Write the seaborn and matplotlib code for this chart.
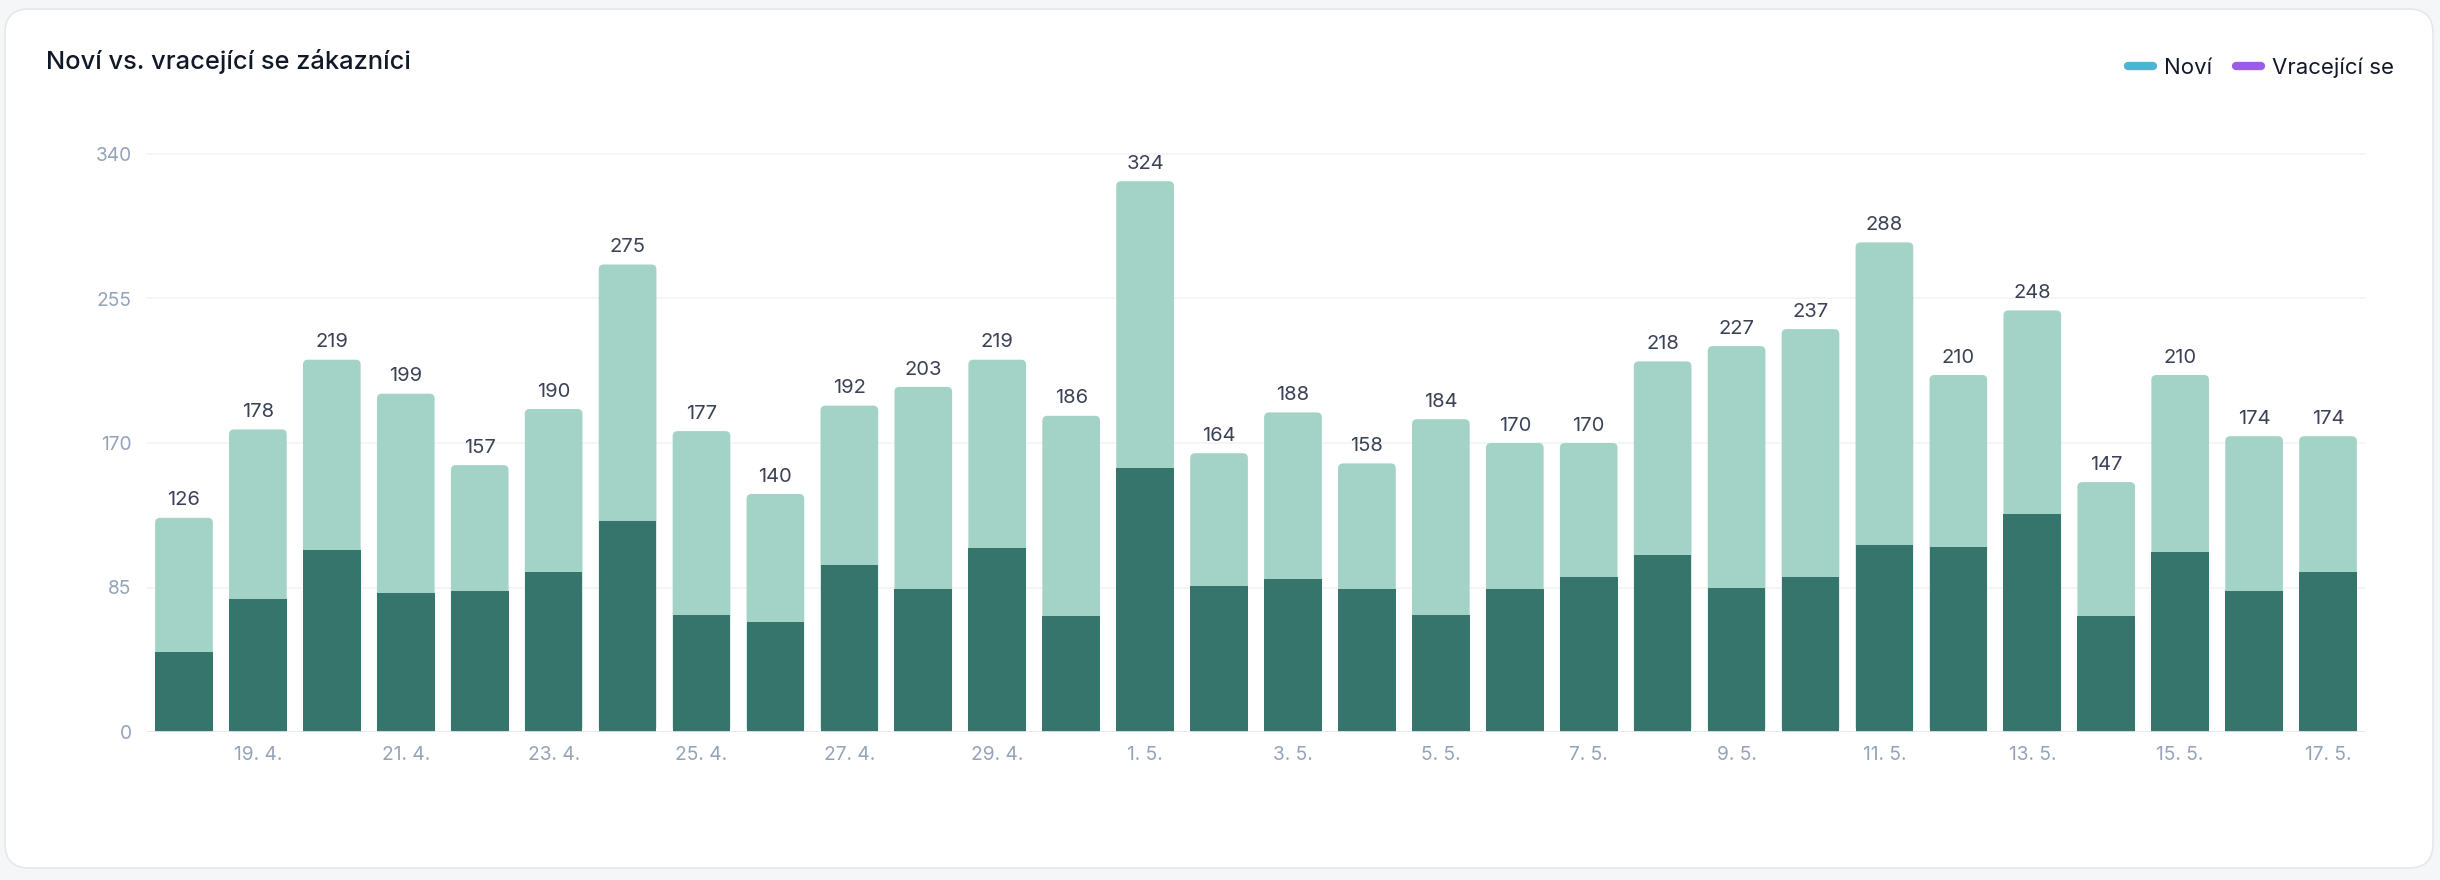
import numpy as np
import pandas as pd
import matplotlib
matplotlib.use('Agg')
import matplotlib.pyplot as plt
import seaborn as sns
from matplotlib.patches import FancyBboxPatch
from matplotlib.lines import Line2D

# data
dates = ['18. 4.', '19. 4.', '20. 4.', '21. 4.', '22. 4.', '23. 4.', '24. 4.', '25. 4.',
         '26. 4.', '27. 4.', '28. 4.', '29. 4.', '30. 4.', '1. 5.', '2. 5.', '3. 5.',
         '4. 5.', '5. 5.', '6. 5.', '7. 5.', '8. 5.', '9. 5.', '10. 5.', '11. 5.',
         '12. 5.', '13. 5.', '14. 5.', '15. 5.', '16. 5.', '17. 5.']
novi = [47, 78, 107, 82, 83, 94, 124, 69, 65, 98, 84, 108, 68, 155, 86,
        90, 84, 69, 84, 91, 104, 85, 91, 110, 109, 128, 68, 106, 83, 94]
vracejici = [79, 100, 112, 117, 74, 96, 151, 108, 75, 94, 119, 111, 118, 169, 78,
             98, 74, 115, 86, 79, 114, 142, 146, 178, 101, 120, 79, 104, 91, 80]
y_ticks = [0, 85, 170, 255, 340]

df = pd.DataFrame({'datum': dates, 'Noví': novi, 'Vracející se': vracejici})
df['celkem'] = df['Noví'] + df['Vracející se']

# barvy
dark_green = '#36756c'
light_green = '#a3d2c6'
title_col = '#111827'
tick_col = '#94a3b8'
label_col = '#3b4256'

sns.set_style('white')
plt.rcParams['font.family'] = ['Inter', 'DejaVu Sans']

W, H = 2440, 880
fig = plt.figure(figsize=(W / 100, H / 100), dpi=100)
fig.patch.set_facecolor('#f5f6f8')

# karta s kulatymi rohy
card = FancyBboxPatch((5 / W, 12 / H), 2428 / W, 859 / H,
                      boxstyle='round,pad=0,rounding_size=%f' % (24 / W),
                      mutation_aspect=W / H, transform=fig.transFigure,
                      facecolor='white', edgecolor='#e5e7eb', linewidth=1.2,
                      zorder=-10)
fig.patches.append(card)

ax_l, ax_r, ax_b, ax_t = 147, 2365, 732, 154
ax = fig.add_axes([ax_l / W, (H - ax_b) / H, (ax_r - ax_l) / W, (ax_b - ax_t) / H])
ax.set_facecolor('none')
ax.set_zorder(5)

# celkovy sloupec (svetly) + novi (tmavy) pres nej
sns.barplot(data=df, x='datum', y='celkem', color=light_green, saturation=1,
            width=0.78, errorbar=None, ax=ax, zorder=2, linewidth=0)
sns.barplot(data=df, x='datum', y='Noví', color=dark_green, saturation=1,
            width=0.78, errorbar=None, ax=ax, zorder=3, linewidth=0)

ax.set_xlim(-0.5, len(dates) - 0.5)
ax.set_ylim(0, 340)

# zakulatit horni rohy svetlych sloupcu
px_x = len(dates) / (ax_r - ax_l)
px_y = 340 / (ax_b - ax_t)
light_bars = ax.patches[:len(dates)]
for p in light_bars:
    x0, w, h = p.get_x(), p.get_width(), p.get_height()
    p.remove()
    rb = FancyBboxPatch((x0, 0), w, h,
                        boxstyle='round,pad=0,rounding_size=%f' % (5 * px_x),
                        mutation_aspect=px_y / px_x,
                        facecolor=light_green, edgecolor='none', zorder=2)
    ax.add_patch(rb)

# popisky hodnot
for i, t in enumerate(df['celkem']):
    ax.annotate(str(t), (i, t), xytext=(0, 6), textcoords='offset points',
                ha='center', va='bottom', fontsize=14.5, color=label_col,
                annotation_clip=False)

ax.set_yticks(y_ticks)
ax.set_yticklabels([str(v) for v in y_ticks])
ax.set_xticks(range(1, len(dates), 2))
ax.set_xticklabels(dates[1::2])
ax.tick_params(axis='both', length=0, labelsize=13.8, colors=tick_col)
ax.tick_params(axis='x', pad=10)
ax.tick_params(axis='y', pad=11)
ax.set_xlabel('')
ax.set_ylabel('')

for y in y_ticks[1:]:
    ax.axhline(y, color='#f1f3f6', linewidth=1.2, zorder=0, clip_on=False)
ax.axhline(0, color='#e2e8f0', linewidth=2, zorder=4)
sns.despine(ax=ax, left=True, bottom=True)

fig.text(46 / W, 1 - 62 / H, 'Noví vs. vracející se zákazníci', fontsize=18.3,
         fontweight='medium', color=title_col, ha='left', va='center')

handles = [Line2D([0], [0], color='#4fb3d4', linewidth=6, solid_capstyle='round'),
           Line2D([0], [0], color='#9b5de5', linewidth=6, solid_capstyle='round')]
fig.legend(handles, ['Noví', 'Vracející se'], loc='center right',
           bbox_to_anchor=(2394 / W, 1 - 68 / H), ncol=2, frameon=False,
           fontsize=16, handlelength=1.1, handletextpad=0.5, columnspacing=1.1,
           borderpad=0, borderaxespad=0, labelcolor=title_col)

fig.savefig('out.png', dpi=100, facecolor=fig.get_facecolor())
